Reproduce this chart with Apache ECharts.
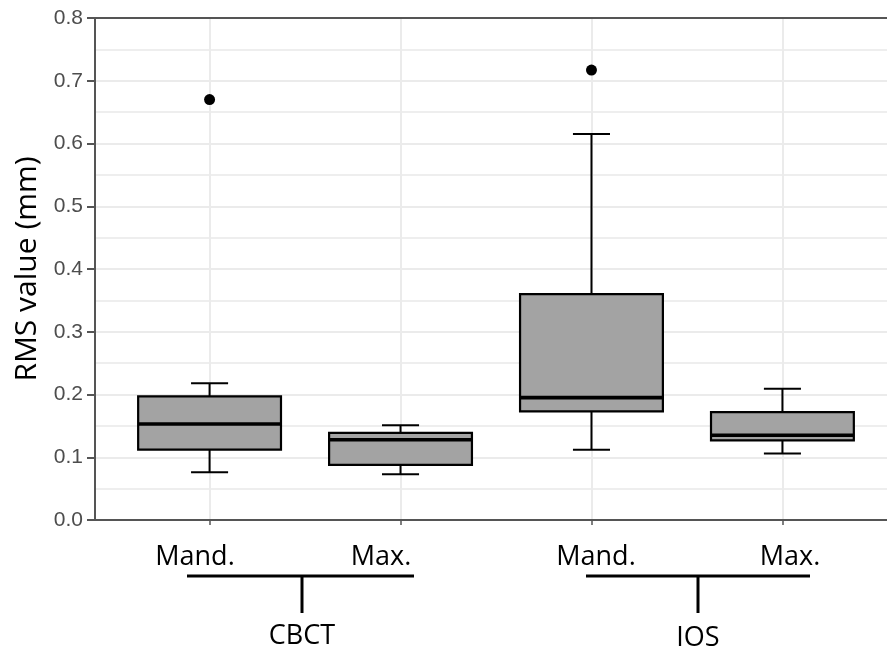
<!DOCTYPE html>
<html>
<head>
<meta charset="utf-8">
<script src="https://cdn.jsdelivr.net/npm/echarts@6/dist/echarts.min.js"></script>
<style>
  html, body { margin: 0; padding: 0; background: #fff; }
  #chart { width: 887px; height: 657px; }
</style>
</head>
<body>
<div id="chart"></div>
<script>
// groups on the x axis
var groups = ['CBCT', 'IOS'];
var categories = ['Mand.', 'Max.', 'Mand.', 'Max.'];
var xPos = [1, 2, 3, 4];

// box statistics (RMS, mm)
var whiskerLow  = [0.076, 0.073, 0.112, 0.106];
var q1          = [0.112, 0.088, 0.173, 0.127];
var median      = [0.153, 0.128, 0.195, 0.135];
var q3          = [0.197, 0.139, 0.360, 0.172];
var whiskerHigh = [0.218, 0.151, 0.615, 0.209];

// outliers: [x, value]
var outliers = [[1, 0.670], [3, 0.717]];

var boxData = xPos.map(function (x, i) {
  return [x, whiskerLow[i], q1[i], median[i], q3[i], whiskerHigh[i]];
});

var chart = echarts.init(document.getElementById('chart'));

function renderBox(params, api) {
  var x = api.value(0);
  var low = api.coord([x, api.value(1)]);
  var pq1 = api.coord([x, api.value(2)]);
  var pmed = api.coord([x, api.value(3)]);
  var pq3 = api.coord([x, api.value(4)]);
  var high = api.coord([x, api.value(5)]);
  var halfBox = api.size([0.374, 0])[0];
  var halfCap = api.size([0.097, 0])[0];
  var cx = low[0];
  var lineStyle = { stroke: '#000', lineWidth: 2, fill: null };
  return {
    type: 'group',
    children: [
      { type: 'line', shape: { x1: cx, y1: high[1], x2: cx, y2: pq3[1] }, style: lineStyle },
      { type: 'line', shape: { x1: cx, y1: pq1[1], x2: cx, y2: low[1] }, style: lineStyle },
      { type: 'line', shape: { x1: cx - halfCap, y1: high[1], x2: cx + halfCap, y2: high[1] }, style: lineStyle },
      { type: 'line', shape: { x1: cx - halfCap, y1: low[1], x2: cx + halfCap, y2: low[1] }, style: lineStyle },
      { type: 'rect', shape: { x: cx - halfBox, y: pq3[1], width: halfBox * 2, height: pq1[1] - pq3[1] },
        style: { fill: '#a3a3a3', stroke: '#000', lineWidth: 2.2 } },
      { type: 'line', shape: { x1: cx - halfBox, y1: pmed[1], x2: cx + halfBox, y2: pmed[1] },
        style: { stroke: '#000', lineWidth: 3.6 } }
    ]
  };
}

var labelFont = 'Open Sans';
var axisColor = '#555';

chart.setOption({
  backgroundColor: '#fff',
  animation: false,
  grid: {
    left: 95, top: 18, width: 802, height: 502,
    outerBoundsMode: 'none',
    containLabel: false
  },
  xAxis: [
    {
      type: 'value',
      min: 0.4, max: 4.6,
      position: 'bottom',
      axisLine: { show: true, onZero: false, lineStyle: { color: axisColor, width: 2 } },
      axisTick: { show: true, length: 5, customValues: xPos, lineStyle: { color: axisColor, width: 1.5 } },
      axisLabel: { show: false },
      splitLine: { show: true, lineStyle: { color: '#ebebeb', width: 2 } }
    },
    {
      type: 'value',
      min: 0.4, max: 4.6,
      position: 'top',
      axisLine: { show: true, onZero: false, lineStyle: { color: axisColor, width: 2 } },
      axisTick: { show: false },
      axisLabel: { show: false },
      splitLine: { show: false }
    }
  ],
  yAxis: {
    type: 'value',
    min: 0, max: 0.8, interval: 0.1,
    name: 'RMS value (mm)',
    nameLocation: 'middle',
    nameGap: 50,
    nameTextStyle: { fontFamily: labelFont, fontSize: 30, color: '#000' },
    axisLine: { show: true, onZero: false, lineStyle: { color: axisColor, width: 2 } },
    axisTick: { show: true, length: 8, lineStyle: { color: axisColor, width: 2 } },
    axisLabel: {
      margin: 12, fontFamily: 'Liberation Sans', fontSize: 21, color: '#4d4d4d',
      formatter: function (v) { return v.toFixed(1); }
    },
    splitLine: { show: true, lineStyle: { color: '#ebebeb', width: 2 } },
    minorTick: { show: false, splitNumber: 2 },
    minorSplitLine: { show: true, lineStyle: { color: '#eeeeee', width: 2 } }
  },
  series: [
    {
      type: 'custom',
      renderItem: renderBox,
      data: boxData,
      encode: { x: 0, y: [1, 2, 3, 4, 5] },
      z: 3
    },
    {
      type: 'scatter',
      data: outliers,
      symbol: 'circle',
      symbolSize: 11,
      itemStyle: { color: '#000', opacity: 1 },
      z: 4
    }
  ],
  graphic: [
    { type: 'text', x: 195, y: 557, style: { text: categories[0], font: '27px "Open Sans"', fill: '#000', align: 'center', verticalAlign: 'middle' } },
    { type: 'text', x: 381, y: 557, style: { text: categories[1], font: '27px "Open Sans"', fill: '#000', align: 'center', verticalAlign: 'middle' } },
    { type: 'text', x: 596, y: 557, style: { text: categories[2], font: '27px "Open Sans"', fill: '#000', align: 'center', verticalAlign: 'middle' } },
    { type: 'text', x: 790, y: 557, style: { text: categories[3], font: '27px "Open Sans"', fill: '#000', align: 'center', verticalAlign: 'middle' } },
    { type: 'line', shape: { x1: 187, y1: 576, x2: 414, y2: 576 }, style: { stroke: '#000', lineWidth: 3 } },
    { type: 'line', shape: { x1: 302, y1: 576, x2: 302, y2: 613 }, style: { stroke: '#000', lineWidth: 3 } },
    { type: 'line', shape: { x1: 586, y1: 576, x2: 810, y2: 576 }, style: { stroke: '#000', lineWidth: 3 } },
    { type: 'line', shape: { x1: 698, y1: 576, x2: 698, y2: 613 }, style: { stroke: '#000', lineWidth: 3 } },
    { type: 'text', x: 302, y: 636, style: { text: groups[0], font: '27px "Open Sans"', fill: '#000', align: 'center', verticalAlign: 'middle' } },
    { type: 'text', x: 698, y: 638, style: { text: groups[1], font: '27px "Open Sans"', fill: '#000', align: 'center', verticalAlign: 'middle' } }
  ]
});
</script>
</body>
</html>
